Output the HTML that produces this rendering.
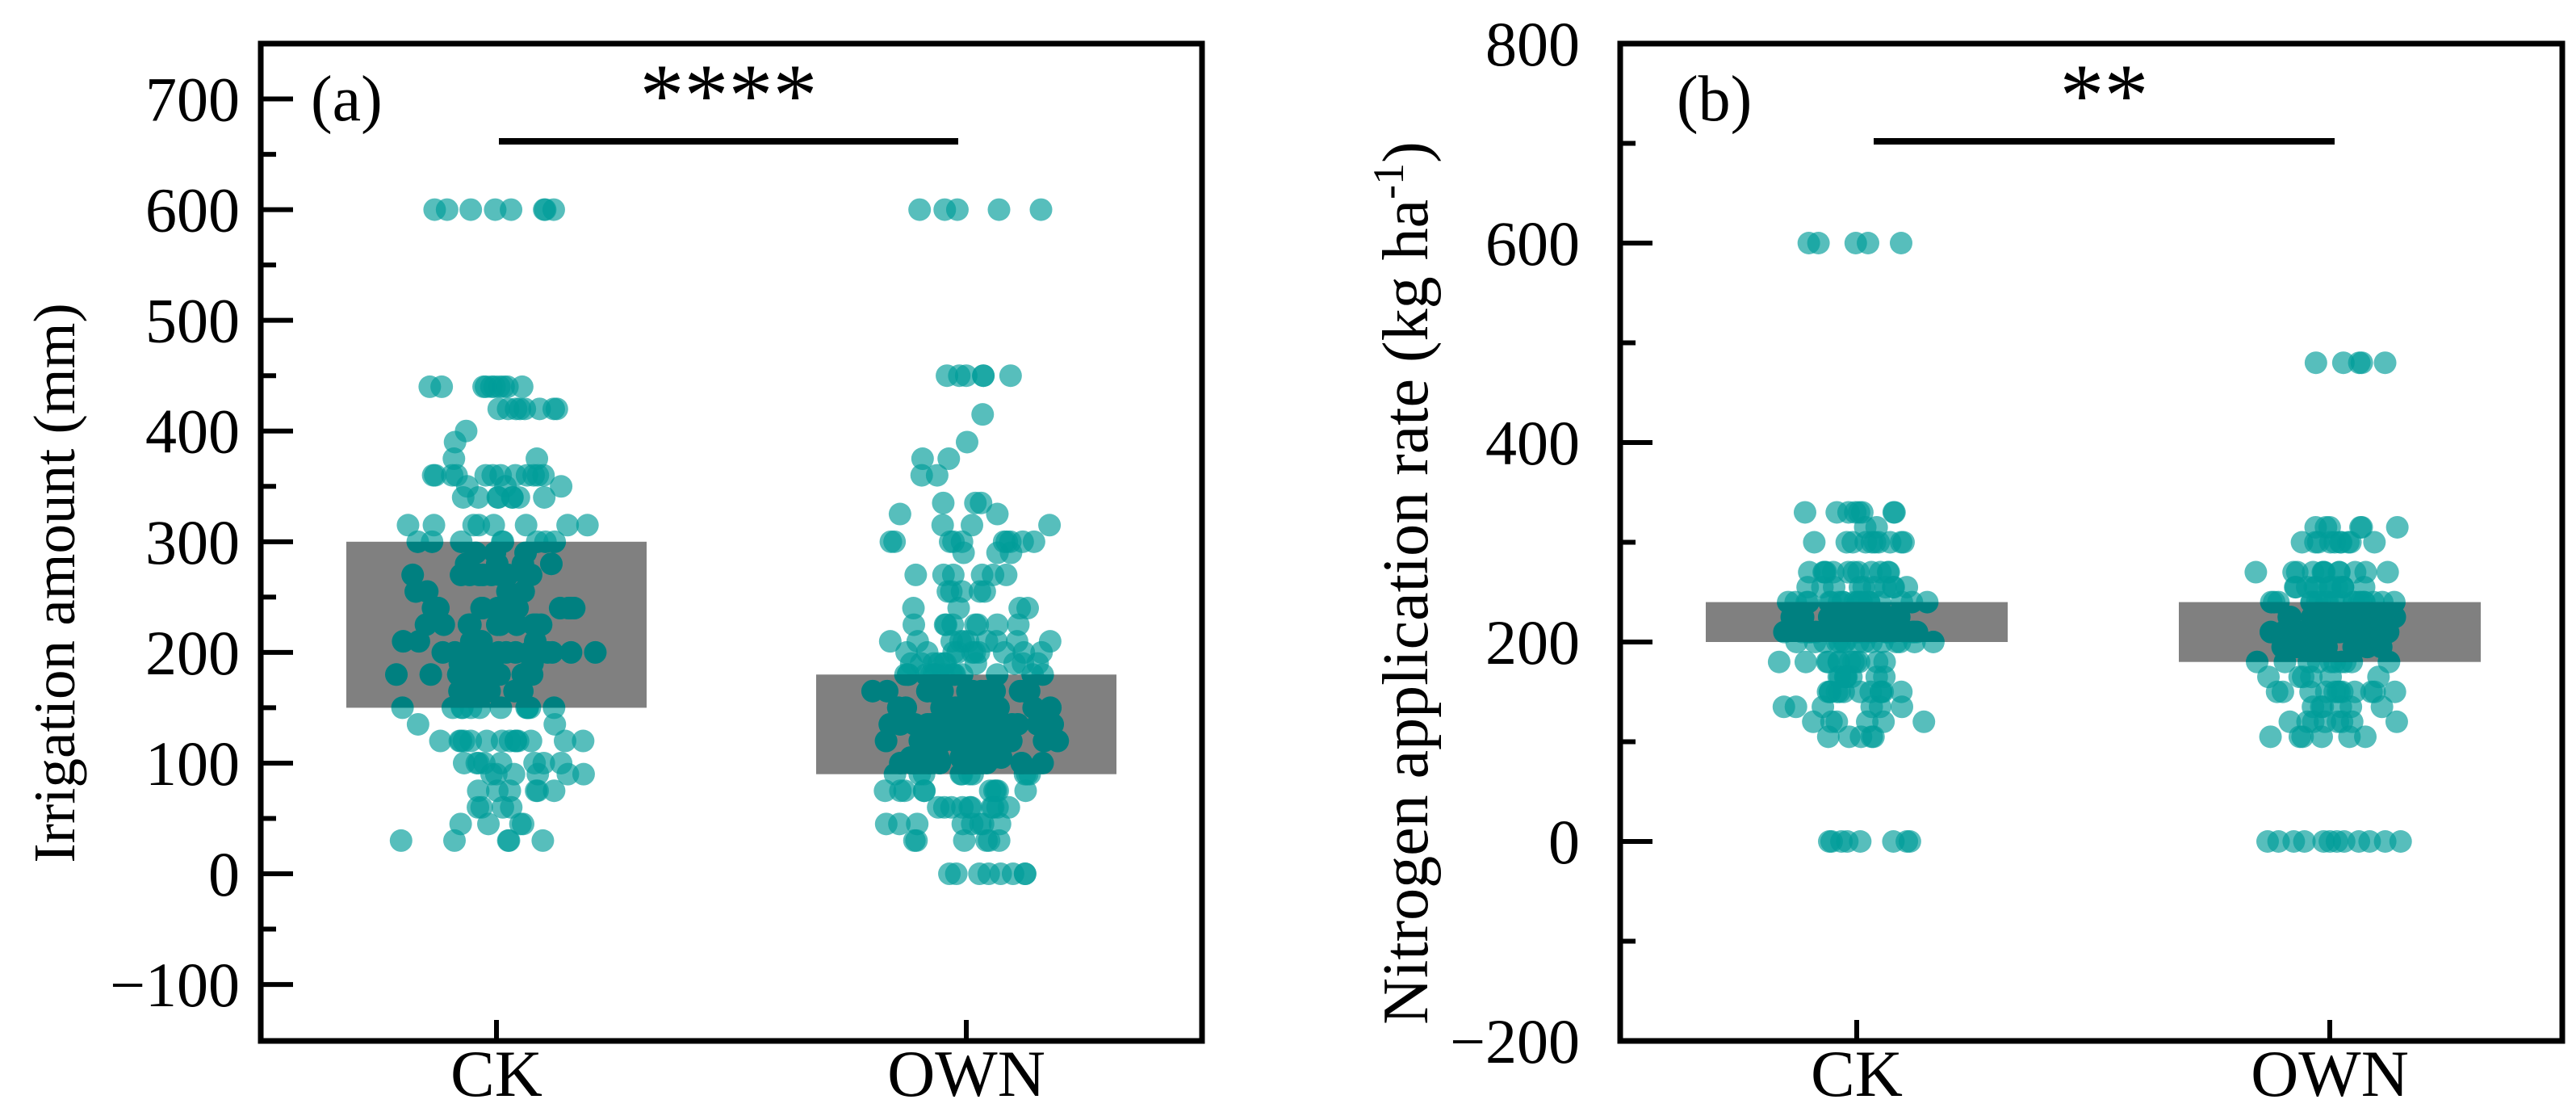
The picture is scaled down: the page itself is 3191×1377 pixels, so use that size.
<!DOCTYPE html>
<html><head><meta charset="utf-8"><style>
html,body{margin:0;padding:0;background:#fff;}
svg{display:block;font-family:"Liberation Serif","Times New Roman",serif;}
</style></head><body>
<svg id="fig" width="3191" height="1377" viewBox="0 0 3191 1377" xmlns="http://www.w3.org/2000/svg"></svg>
<script>
// ---------- data ----------
const categories = ["CK", "OWN"];
// Panel (a): irrigation amount (mm) — distinct values and how many points sit at each
const irrCKValues  = [600,440,420,400,390,375,360,350,340,315,300,290,280,270,255,240,225,210,200,190,180,165,150,135,120,100,90,75,60,45,30];
const irrCKCounts  = [8,10,8,1,1,2,12,3,8,8,8,3,4,10,4,15,10,5,12,5,12,6,12,2,14,8,6,6,4,4,5];
const irrOWNValues = [600,450,415,390,375,360,335,325,315,300,290,270,255,240,225,210,200,190,180,165,150,135,120,105,100,90,75,60,45,30,0];
const irrOWNCounts = [5,6,1,1,2,2,3,2,3,10,3,6,5,4,8,10,10,10,15,15,18,18,18,15,12,10,10,10,8,6,8];
const irrBars = [[150,300],[90,180]];
const irrTicks = [-100,0,100,200,300,400,500,600,700];
// Panel (b): nitrogen application rate (kg ha-1)
const nCKValues  = [600,330,315,300,270,255,240,225,210,200,180,165,150,135,120,105,0];
const nCKCounts  = [5,8,2,10,12,10,20,25,25,15,12,8,12,6,6,5,8];
const nOWNValues = [480,315,300,270,255,240,225,210,195,180,165,150,135,120,105,0];
const nOWNCounts = [5,6,10,12,12,20,25,25,15,10,6,12,6,8,6,12];
const nBars = [[200,240],[180,240]];
const nTicks = [-200,0,200,400,600,800];

const svg = document.getElementById('fig');
const NS = 'http://www.w3.org/2000/svg';
function mk(tag, attrs, parent){
  const e = document.createElementNS(NS, tag);
  for (const k in attrs) e.setAttribute(k, attrs[k]);
  (parent||svg).appendChild(e);
  return e;
}
const defs = mk('defs', {});

function panel(cfg){
  const g = mk('g', {});
  
  
  const {L,R,T,B,ymin,ymax} = cfg;
  const y = v => B - (v - ymin) / (ymax - ymin) * (B - T);
  const x = i => cfg.cx[i];

  const clip = mk('clipPath', {id: cfg.name + '-clip'}, defs);
  cfg.bars.forEach((b,i)=>{
    const r = mk('rect', {x: x(i)-cfg.barHalf, y: y(b[1]), width: cfg.barHalf*2, height: y(b[0])-y(b[1]), fill:'#808080'}, g);
    
    
    mk('rect', {x: x(i)-cfg.barHalf, y: y(b[1]), width: cfg.barHalf*2, height: y(b[0])-y(b[1])}, clip);
  });

  const seriesV = [cfg.ckV, cfg.ownV], seriesC = [cfg.ckC, cfg.ownC];
  let seed = 11;
  function jit(){ seed = (seed * 9301 + 49297) % 233280; return seed / 233280 * 2 - 1; }
  const over = mk('g', {'clip-path': `url(#${cfg.name}-clip)`});
  seriesV.forEach((vals, i)=>{
    const pg = mk('g', {}, g);
    
    
    vals.forEach((v, k)=>{
      for (let n = 0; n < seriesC[i][k]; n++){
        const j = jit(), j2 = jit();
        const px = x(i) + (j + j2) / 2 * cfg.jitter * 1.6;
        const c = mk('circle', {cx: px, cy: y(v), r: 14, fill:'rgb(0,156,153)', 'fill-opacity':0.66}, pg);
        
        
        mk('circle', {cx: px, cy: y(v), r: 14, fill:'#008080'}, over);
      }
    });
  });
  g.appendChild(over);

  const f = mk('rect', {x:L, y:T, width:R-L, height:B-T, fill:'none', stroke:'#000', 'stroke-width':7}, g);
  
  

  const step = cfg.ticks[1]-cfg.ticks[0];
  for (let v = cfg.ticks[0]; v <= cfg.ticks[cfg.ticks.length-1]; v += step/2){
    const major = cfg.ticks.includes(v);
    mk('line', {x1:L, x2:L+(major?40:19), y1:y(v), y2:y(v), stroke:'#000', 'stroke-width':6}, g);
  }
  cfg.ticks.forEach(v=>{
    const t = mk('text', {x: cfg.labelX, y: y(v)+27, 'text-anchor':'end', 'font-size':78}, g);
    t.textContent = v < 0 ? '\u2212' + Math.abs(v) : String(v);
    
    
  });
  categories.forEach((c,i)=>{
    mk('line', {x1:x(i), x2:x(i), y1:B, y2:B-26, stroke:'#000', 'stroke-width':6}, g);
    const t = mk('text', {x:x(i), y:1357, 'text-anchor':'middle', 'font-size':82}, g);
    t.textContent = c;
    
    
  });
  const sl = mk('line', {x1:cfg.sig[0], x2:cfg.sig[1], y1:175, y2:175, stroke:'#000', 'stroke-width':8}, g);
  
  
  const st = mk('text', {x:(cfg.sig[0]+cfg.sig[1])/2, y:155, 'text-anchor':'middle', 'font-size':110}, g);
  st.textContent = cfg.stars;
  
  
  const pl = mk('text', {x:cfg.tagX, y:149, 'font-size':80}, g);
  pl.textContent = cfg.tag;
  
  
  const at = mk('text', {x:0, y:0, 'text-anchor':'middle', 'font-size':cfg.titleSize, transform:`translate(${cfg.titleX},722) rotate(-90)`}, g);
  
  
  if (cfg.sup){
    at.textContent = cfg.title;
    const s1 = mk('tspan', {dy:-30, 'font-size':54}, at); s1.textContent = '-1';
    const s2 = mk('tspan', {dy:30}, at); s2.textContent = ')';
  } else at.textContent = cfg.title;
}

panel({name:'panel-a-irrigation', L:323, R:1489, T:54, B:1289, ymin:-151, ymax:750,
  cx:[615,1197], barHalf:186, jitter:80, bars:irrBars, ticks:irrTicks,
  ckV:irrCKValues, ckC:irrCKCounts, ownV:irrOWNValues, ownC:irrOWNCounts,
  labelX:297, sig:[618,1187], stars:'****', tag:'(a)', tagX:385, titleX:92, titleSize:73,
  title:'Irrigation amount (mm)'});
panel({name:'panel-b-nitrogen', L:2007, R:3174, T:54, B:1289, ymin:-200, ymax:800,
  cx:[2300,2886], barHalf:187, jitter:62, bars:nBars, ticks:nTicks,
  ckV:nCKValues, ckC:nCKCounts, ownV:nOWNValues, ownC:nOWNCounts,
  labelX:1957, sig:[2321,2892], stars:'**', tag:'(b)', tagX:2077, titleX:1768, titleSize:80,
  title:'Nitrogen application rate (kg ha', sup:true});
</script>
</body></html>
